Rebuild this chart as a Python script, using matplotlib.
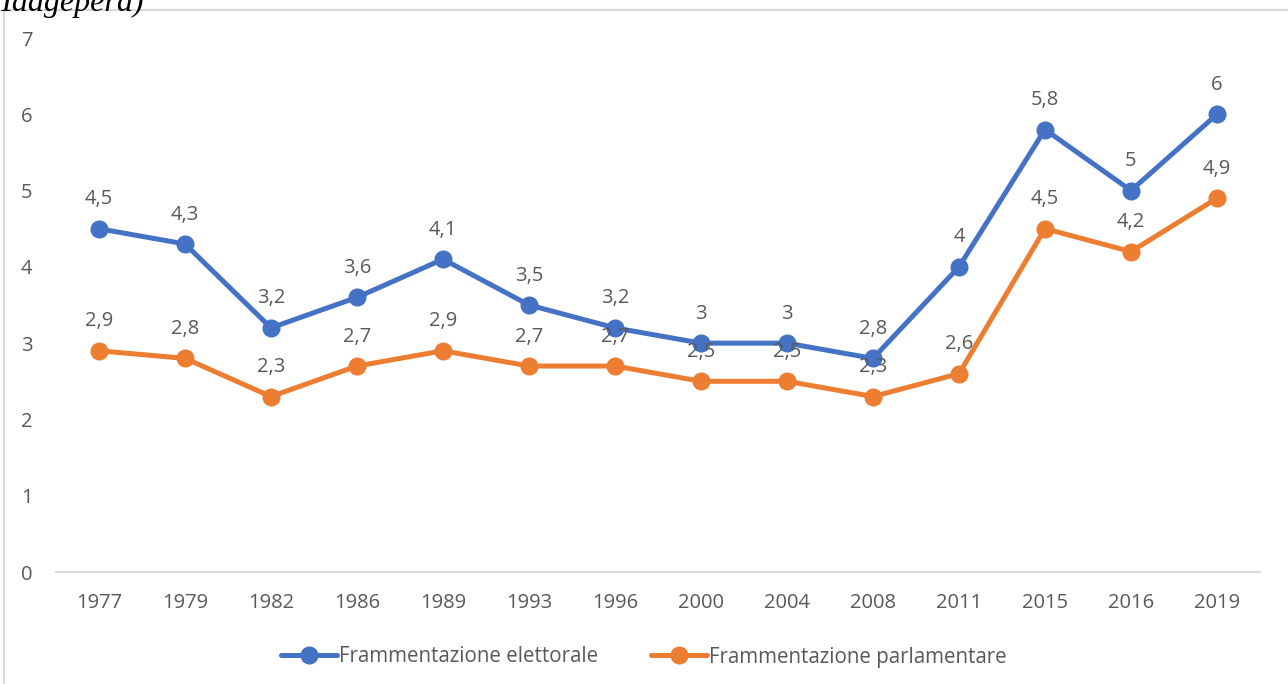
import matplotlib.pyplot as plt
from matplotlib.patches import Rectangle

# dati
anni = ['1977', '1979', '1982', '1986', '1989', '1993', '1996',
        '2000', '2004', '2008', '2011', '2015', '2016', '2019']
elettorale = [4.5, 4.3, 3.2, 3.6, 4.1, 3.5, 3.2, 3.0, 3.0, 2.8, 4.0, 5.8, 5.0, 6.0]
parlamentare = [2.9, 2.8, 2.3, 2.7, 2.9, 2.7, 2.7, 2.5, 2.5, 2.3, 2.6, 4.5, 4.2, 4.9]
y_ticks = [0, 1, 2, 3, 4, 5, 6, 7]

blu = '#4472C4'
arancio = '#ED7D31'
grigio = '#595959'

plt.rcParams['font.family'] = ['Open Sans', 'DejaVu Sans']

fig = plt.figure(figsize=(12.88, 6.84), dpi=100)

# cornice del grafico (si vedono solo bordo sinistro e superiore)
fig.patches.append(Rectangle((4 / 1288, -0.1), 1.2, 1 - 10 / 684 + 0.1,
                             transform=fig.transFigure, fill=False,
                             edgecolor='#D9D9D9', linewidth=1.5))

# testo tagliato in alto
fig.text(-2 / 1288, 1 - 11 / 684, 'Taagepera)', family='Liberation Serif',
         style='italic', fontsize=23, color='black', va='baseline', ha='left')

ax = fig.add_axes([56 / 1288, 112 / 684, 1204 / 1288, 534 / 684])
x = list(range(len(anni)))

ax.plot(x, elettorale, color=blu, linewidth=3.6, marker='o', markersize=12,
        label='Frammentazione elettorale', solid_capstyle='round')
ax.plot(x, parlamentare, color=arancio, linewidth=3.6, marker='o', markersize=12,
        label='Frammentazione parlamentare', solid_capstyle='round')

def fmt(v):
    s = ('%.1f' % v).rstrip('0').rstrip('.')
    return s.replace('.', ',')

for serie in (elettorale, parlamentare):
    for xi, v in zip(x, serie):
        ax.annotate(fmt(v), (xi, v), xytext=(0, 14), textcoords='offset points',
                    ha='center', va='bottom', fontsize=14.5, color=grigio)

ax.set_xlim(-0.5, len(anni) - 0.5)
ax.set_ylim(0, 7)
ax.set_xticks(x)
ax.set_xticklabels(anni)
ax.set_yticks(y_ticks)
ax.tick_params(axis='both', length=0, labelsize=14.5, labelcolor=grigio)
ax.tick_params(axis='x', pad=15)
ax.tick_params(axis='y', pad=17)
for lato in ['top', 'right', 'left']:
    ax.spines[lato].set_visible(False)
ax.spines['bottom'].set_color('#D9D9D9')
ax.spines['bottom'].set_linewidth(1.5)

leg = fig.legend(loc='center', bbox_to_anchor=(0.5, 1 - 657 / 684), ncol=2,
                 frameon=False, fontsize=14.8, handlelength=2.7,
                 handletextpad=0.1, columnspacing=2.6)
for t in leg.get_texts():
    t.set_color(grigio)

fig.savefig('out.png', dpi=100)
